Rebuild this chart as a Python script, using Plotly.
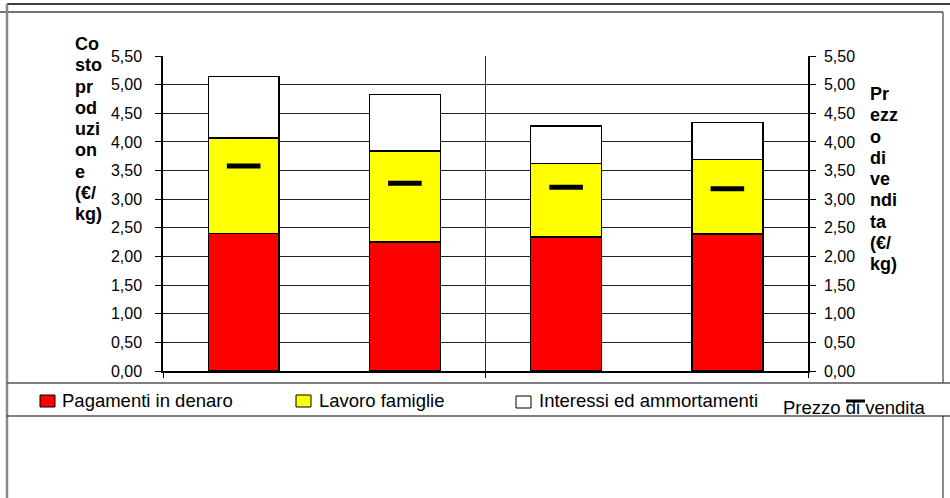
import plotly.graph_objects as go

# ---------------- data ----------------
categories = ["1", "2", "3", "4"]
pagamenti_denaro = [2.40, 2.25, 2.34, 2.39]
lavoro_famiglie = [1.67, 1.59, 1.28, 1.30]
interessi_ammortamenti = [1.07, 0.99, 0.66, 0.65]
prezzo_vendita = [3.58, 3.28, 3.21, 3.18]

series_names = ["Pagamenti in denaro", "Lavoro famiglie", "Interessi ed ammortamenti"]
series_colors = ["#FF0000", "#FFFF00", "#FFFFFF"]
tick_values = [0, 0.5, 1.0, 1.5, 2.0, 2.5, 3.0, 3.5, 4.0, 4.5, 5.0, 5.5]
left_title_lines = ["Co", "sto", "pr", "od", "uzi", "on", "e", "(€/", "kg)"]
right_title_lines = ["Pr", "ezz", "o", "di", "ve", "ndi", "ta", "(€/", "kg)"]
price_label = "Prezzo di vendita"

# ---------------- geometry helpers (pixel -> paper) ----------------
W, H = 950, 498
ML, MR, MT, MB = 163, 142, 56, 127
PW, PH = W - ML - MR, H - MT - MB


def px(x):
    return (x - ML) / PW


def py(y):
    return (H - MB - y) / PH


FONT = "Liberation Sans, Arial, sans-serif"
xpos = list(range(len(categories)))

fig = go.Figure()
for name, vals, col in zip(series_names,
                           [pagamenti_denaro, lavoro_famiglie, interessi_ammortamenti],
                           series_colors):
    fig.add_trace(go.Bar(
        x=xpos, y=vals, name=name, width=0.44,
        marker=dict(color=col, line=dict(color="#000000", width=1.3)),
        showlegend=False,
    ))

fig.add_trace(go.Scatter(
    x=xpos, y=prezzo_vendita, mode="markers", name=price_label,
    marker=dict(symbol="line-ew", size=24, color="#000000",
                line=dict(color="#000000", width=5)),
    showlegend=False, yaxis="y2",
))

shapes = []


def hline(y, x0, x1, color, width):
    shapes.append(dict(type="line", xref="paper", yref="paper",
                       x0=px(x0), x1=px(x1), y0=py(y), y1=py(y),
                       line=dict(color=color, width=width), layer="above"))


def vline(x, y0, y1, color, width):
    shapes.append(dict(type="line", xref="paper", yref="paper",
                       x0=px(x), x1=px(x), y0=py(y0), y1=py(y1),
                       line=dict(color=color, width=width), layer="above"))


# outer frames
hline(4, 7, 950, "#000000", 1.5)
hline(12, 0, 943, "#444444", 1.5)
vline(7, 4, 498, "#888888", 2.5)
vline(943, 12, 383, "#666666", 1.5)
vline(943, 416, 498, "#666666", 1.5)
hline(383, 7, 950, "#555555", 1.5)
hline(416, 7, 950, "#000000", 1.2)

# legend boxes
legend_boxes = [(40, 55, 395, 407), (296, 311, 395, 407), (516, 531, 396, 408)]
for (x0, x1, y0, y1), col in zip(legend_boxes, series_colors):
    shapes.append(dict(type="rect", xref="paper", yref="paper",
                       x0=px(x0), x1=px(x1), y0=py(y1), y1=py(y0),
                       fillcolor=col, line=dict(color="#000000", width=1)))
# price marker in legend (drawn over the text as in the original)
hline(401, 846, 865, "#000000", 3)

annotations = []
legend_text_pos = [(60, 400), (317, 400), (537, 400)]
for name, (x, y) in zip(series_names, legend_text_pos):
    annotations.append(dict(text=name, xref="paper", yref="paper",
                            x=px(x), y=py(y), xanchor="left", yanchor="middle",
                            showarrow=False, font=dict(size=18.5, color="#000000", family=FONT)))
annotations.append(dict(text=price_label, xref="paper", yref="paper",
                        x=px(781), y=py(407), xanchor="left", yanchor="middle",
                        showarrow=False, font=dict(size=18.5, color="#000000", family=FONT)))

for i, t in enumerate(left_title_lines):
    annotations.append(dict(text="<b>%s</b>" % t, xref="paper", yref="paper",
                            x=px(73), y=py(44 + 21.25 * i), xanchor="left", yanchor="middle",
                            showarrow=False, font=dict(size=18, color="#000000", family=FONT)))
for i, t in enumerate(right_title_lines):
    annotations.append(dict(text="<b>%s</b>" % t, xref="paper", yref="paper",
                            x=px(868), y=py(94 + 21.25 * i), xanchor="left", yanchor="middle",
                            showarrow=False, font=dict(size=18, color="#000000", family=FONT)))

yaxis_common = dict(
    range=[0, 5.5], tickvals=tick_values, tickformat=".2f",
    ticks="outside", ticklen=6, tickcolor="#000000", tickwidth=1,
    showline=True, linecolor="#000000", linewidth=1.5,
    tickfont=dict(size=16, color="#000000", family=FONT),
    zeroline=False, fixedrange=True,
)

fig.update_layout(
    width=W, height=H,
    margin=dict(l=ML, r=MR, t=MT, b=MB, pad=0),
    paper_bgcolor="#FFFFFF", plot_bgcolor="#FFFFFF",
    barmode="stack", bargap=0.56,
    separators=",.",
    font=dict(family=FONT, color="#000000"),
    xaxis=dict(range=[-0.5, len(categories) - 0.5],
               tickvals=[-0.5, (len(categories) - 1) / 2, len(categories) - 0.5],
               showticklabels=False, ticks="outside", ticklen=5, tickcolor="#000000",
               showgrid=True, gridcolor="#333333", gridwidth=1,
               showline=True, linecolor="#000000", linewidth=1.5, zeroline=False),
    yaxis=dict(**yaxis_common, side="left", showgrid=True, gridcolor="#222222",
               gridwidth=1, ticklabelstandoff=10),
    yaxis2=dict(**yaxis_common, side="right", overlaying="y", showgrid=False,
                ticklabelstandoff=5),
    shapes=shapes, annotations=annotations,
)

fig.write_html("out.html")
